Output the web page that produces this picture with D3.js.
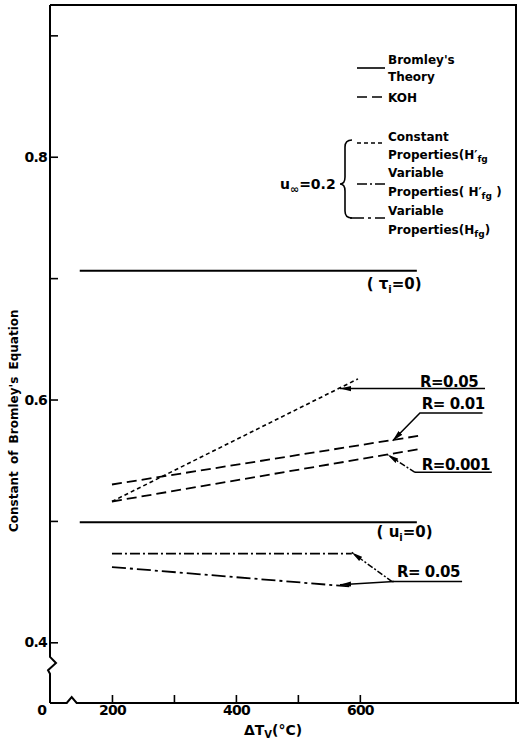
<!DOCTYPE html>
<html>
<head>
<meta charset="utf-8">
<script src="https://cdn.jsdelivr.net/npm/d3@7"></script>
<style>
body { margin: 0; background: #fff; }
svg text { font-family: 'DejaVu Sans', sans-serif; font-weight: bold; fill: #000; }
</style>
</head>
<body>
<svg id="chart" width="519" height="740"></svg>
<script>
// curves (x = delta Tv in C, y = constant)
const bromleyTau = [[148, 0.706], [692, 0.706]]
const bromleyU = [[148, 0.499], [692, 0.499]]
const kohR01 = [[200, 0.530], [694, 0.570]]
const kohR001 = [[200, 0.516], [694, 0.559]]
const constProps = [[200, 0.516], [597, 0.617]]
const varPropsPrime = [[200, 0.473], [587, 0.473]]
const varProps = [[200, 0.462], [583, 0.446]]

const yTicks = [0.4, 0.5, 0.6, 0.7, 0.8, 0.9]
const yTickLabels = ['0.4', '', '0.6', '', '0.8', '']
const xTicks = [200, 300, 400, 500, 600]
const xTickLabels = ['200', '', '400', '', '600']

// R annotations: label, text anchor point, leader polylines
const noteLabels = ['R=0.05', 'R= 0.01', 'R=0.001', 'R= 0.05']
const notePos = [[697, 0.6107], [700, 0.5918], [700, 0.5416], [660, 0.4535]]
const noteLeaders = [
    { pts: [[802, 0.609], [568, 0.609]], dash: null, arrow: true },
    { pts: [[798, 0.589], [697, 0.589], [653, 0.566]], dash: null, arrow: true },
    { pts: [[813, 0.540], [689, 0.540]], dash: null, arrow: false },
    { pts: [[689, 0.540], [645, 0.5545]], dash: '6,2,2,2', arrow: true },
    { pts: [[765, 0.450], [652, 0.450]], dash: null, arrow: false },
    { pts: [[652, 0.450], [587, 0.474]], dash: '6,2,2,2', arrow: true },
    { pts: [[655, 0.450], [568, 0.4475]], dash: null, arrow: true }
]

const svg = d3.select('#chart')
const x = d3.scaleLinear().domain([100, 852]).range([50, 516])
const y = d3.scaleLinear().domain([0.35, 0.925]).range([703, 5])

const dashKOH = '10,5'
const dashConst = '4,3'
const dashVarPrime = '10,3,2,3'
const dashVar = '14,4,3,4'

// marker for arrow heads
svg.append('defs').append('marker')
    .attr('id', 'arr')
    .attr('markerUnits', 'userSpaceOnUse')
    .attr('viewBox', '0 -3 11 6')
    .attr('refX', 11)
    .attr('refY', 0)
    .attr('markerWidth', 11)
    .attr('markerHeight', 6)
    .attr('orient', 'auto')
    .append('path')
    .attr('d', 'M0,-2.6L11,0L0,2.6Z')
    .attr('fill', '#000')

// frame (top + right)
svg.append('path')
    .attr('d', `M${x(100)},${y(0.925)}H${x(852)}V${y(0.35)}`)
    .attr('fill', 'none').attr('stroke', '#000').attr('stroke-width', 2)

// left axis with break
const x0 = x(100)
svg.append('path')
    .attr('d', `M${x0},${y(0.925)}V${y(0.388)}L${x0 + 6},${y(0.383)}L${x0 - 2},${y(0.377)}L${x0},${y(0.374)}V${y(0.35)}`)
    .attr('fill', 'none').attr('stroke', '#000').attr('stroke-width', 2)

// bottom axis with break
const yb = y(0.35)
svg.append('path')
    .attr('d', `M${x0},${yb}H${x(127)}L${x(135)},${yb - 6}L${x(143)},${yb}H519`)
    .attr('fill', 'none').attr('stroke', '#000').attr('stroke-width', 2)

const yAxis = svg.append('g')
    .attr('transform', `translate(${x0},0)`)
    .call(d3.axisLeft(y).tickValues(yTicks).tickSize(-8).tickPadding(3)
        .tickFormat((d, i) => yTickLabels[i]))
yAxis.select('.domain').remove()
yAxis.selectAll('line').attr('stroke-width', 1.6)
yAxis.selectAll('text').attr('font-size', 14).attr('letter-spacing', -0.8)
    .attr('font-family', "'DejaVu Sans', sans-serif")

const xAxis = svg.append('g')
    .attr('transform', `translate(0,${yb})`)
    .call(d3.axisBottom(x).tickValues(xTicks).tickSize(-8).tickPadding(2)
        .tickFormat((d, i) => xTickLabels[i]))
xAxis.select('.domain').remove()
xAxis.selectAll('line').attr('stroke-width', 1.6)
xAxis.selectAll('text').attr('font-size', 14).attr('letter-spacing', -0.8)
    .attr('font-family', "'DejaVu Sans', sans-serif")

// origin label
svg.append('text')
    .attr('x', x0 - 8).attr('y', yb + 12)
    .attr('text-anchor', 'middle').attr('font-size', 14)
    .text('0')

// axis titles
svg.append('text')
    .attr('transform', `translate(18,${y(0.5825)}) rotate(-90)`)
    .attr('text-anchor', 'middle').attr('font-size', 12)
    .attr('word-spacing', 3)
    .text("Constant of Bromley's Equation")

const xt = svg.append('text')
    .attr('x', x(460)).attr('y', 735)
    .attr('text-anchor', 'middle').attr('font-size', 14)
xt.append('tspan').text('ΔT')
xt.append('tspan').attr('font-size', 10).attr('dy', 3).text('V')
xt.append('tspan').attr('dy', -3).text('(°C)')

// curves
const line = d3.line().x(d => x(d[0])).y(d => y(d[1]))
const curves = [
    { d: bromleyTau, dash: null, w: 2 },
    { d: bromleyU, dash: null, w: 2 },
    { d: kohR01, dash: dashKOH, w: 1.8 },
    { d: kohR001, dash: dashKOH, w: 1.8 },
    { d: constProps, dash: dashConst, w: 1.6 },
    { d: varPropsPrime, dash: dashVarPrime, w: 1.8 },
    { d: varProps, dash: dashVar, w: 1.8 }
]
svg.append('g').selectAll('path')
    .data(curves)
    .join('path')
    .attr('d', c => line(c.d))
    .attr('fill', 'none')
    .attr('stroke', '#000')
    .attr('stroke-width', c => c.w)
    .attr('stroke-dasharray', c => c.dash)

// curve labels
const tauLbl = svg.append('text')
    .attr('x', x(611)).attr('y', y(0.6914)).attr('font-size', 15)
tauLbl.append('tspan').text('( τ')
tauLbl.append('tspan').attr('font-size', 10).attr('dy', 4).text('i')
tauLbl.append('tspan').attr('dy', -4).text('=0)')

const uLbl = svg.append('text')
    .attr('x', x(627)).attr('y', y(0.487)).attr('font-size', 15)
uLbl.append('tspan').text('( u')
uLbl.append('tspan').attr('font-size', 10).attr('dy', 4).text('i')
uLbl.append('tspan').attr('dy', -4).text('=0)')

// R annotations
svg.append('g').selectAll('text')
    .data(noteLabels)
    .join('text')
    .attr('x', (d, i) => x(notePos[i][0]))
    .attr('y', (d, i) => y(notePos[i][1]))
    .attr('font-size', 15)
    .attr('letter-spacing', -0.5)
    .text(d => d)

svg.append('g').selectAll('path')
    .data(noteLeaders)
    .join('path')
    .attr('d', n => line(n.pts))
    .attr('fill', 'none')
    .attr('stroke', '#000')
    .attr('stroke-width', 1.5)
    .attr('stroke-dasharray', n => n.dash)
    .attr('marker-end', n => n.arrow ? 'url(#arr)' : null)

// legend
const lg = svg.append('g')
const legendRows = [
    { y: 68, dash: null, x1: 357, text: [["Bromley's", 64], ['Theory', 81]] },
    { y: 97, dash: dashKOH, x1: 357, text: [['KOH', 102]] },
    { y: 143, dash: dashConst, x1: 357, text: [['Constant', 141], ['Properties(H|fg', 159]] },
    { y: 184, dash: dashVarPrime, x1: 357, text: [['Variable', 177], ['Properties( H|fg )', 196]] },
    { y: 218, dash: dashVar, x1: 350, text: [['Variable', 215], ['Properties(H_fg)', 234]] }
]
legendRows.forEach(r => {
    lg.append('line')
        .attr('x1', r.x1).attr('x2', 385)
        .attr('y1', r.y).attr('y2', r.y)
        .attr('stroke', '#000').attr('stroke-width', 1.6)
        .attr('stroke-dasharray', r.dash)
    r.text.forEach(([s, ty]) => {
        const t = lg.append('text').attr('x', 388).attr('y', ty).attr('font-size', 12)
        const m = s.match(/^(.*H)([|_])(fg)(.*)$/)
        if (!m) { t.text(s); return }
        // prime over H, subscript fg
        const sup = m[2] === '|' ? '\u2032' : ''
        t.append('tspan').text(m[1] + sup)
        t.append('tspan').attr('font-size', 9).attr('dy', 3).text(m[3])
        t.append('tspan').attr('dy', -3).text(m[4])
    })
})

// brace
lg.append('path')
    .attr('d', 'M352,140Q345,140 345,147V177Q345,184 340,184Q345,184 345,191V211Q345,218 352,218')
    .attr('fill', 'none').attr('stroke', '#000').attr('stroke-width', 1.6)

const uInf = lg.append('text').attr('x', 280).attr('y', 189).attr('font-size', 14)
uInf.append('tspan').text('u')
uInf.append('tspan').attr('font-size', 11).attr('dy', 4).text('∞')
uInf.append('tspan').attr('dy', -4).text('=0.2')
</script>
</body>
</html>
